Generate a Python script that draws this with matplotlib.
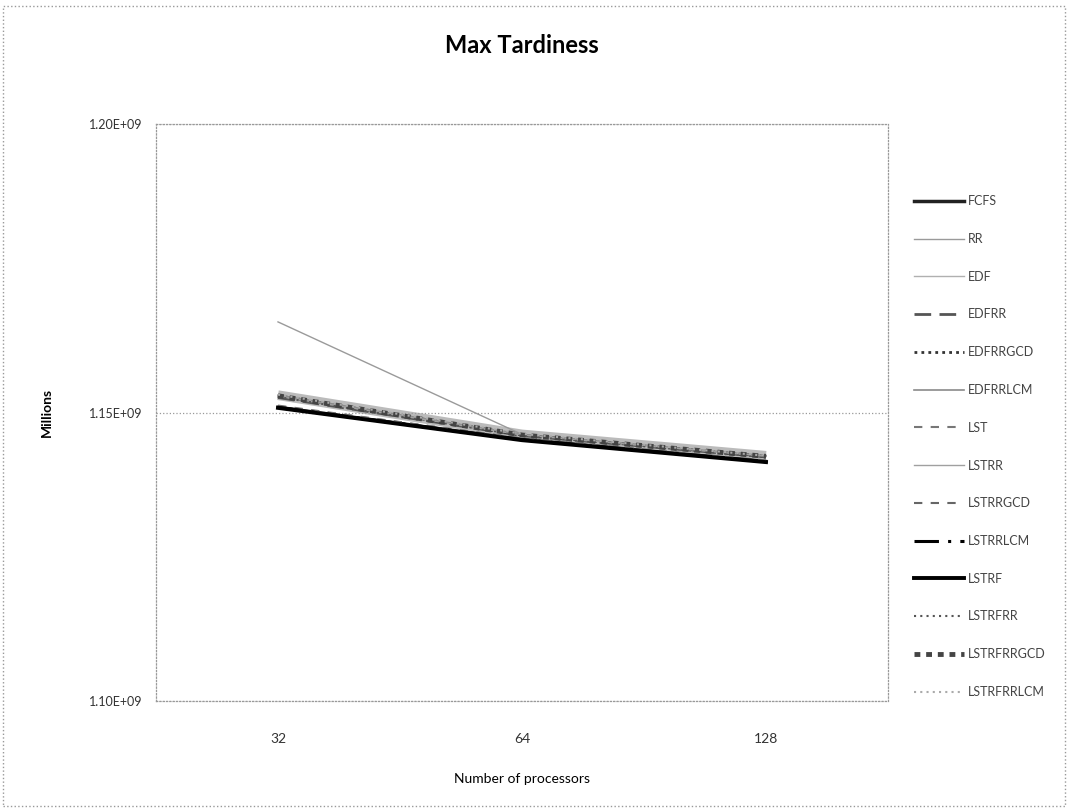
import matplotlib.pyplot as plt
from matplotlib.patches import Rectangle

plt.rcParams['font.family'] = ['Lato', 'DejaVu Sans']

processors = ['32', '64', '128']

# max tardiness per scheduler
fcfs = [1.1509e9, 1.1453e9, 1.1415e9]
rr = [1.1657e9, 1.1462e9, 1.1424e9]
edf = [1.1527e9, 1.1461e9, 1.1424e9]
edfrr = [1.1526e9, 1.1460e9, 1.1423e9]
edfrrgcd = [1.1529e9, 1.1461e9, 1.1424e9]
edfrrlcm = [1.1530e9, 1.1462e9, 1.1425e9]
lst = [1.1512e9, 1.1455e9, 1.1417e9]
lstrr = [1.1528e9, 1.1461e9, 1.1424e9]
lstrrgcd = [1.1511e9, 1.1455e9, 1.1416e9]
lstrrlcm = [1.1509e9, 1.1453e9, 1.1415e9]
lstrf = [1.1508e9, 1.1452e9, 1.1414e9]
lstrfrr = [1.1527e9, 1.1460e9, 1.1423e9]
lstrfrrgcd = [1.1529e9, 1.1461e9, 1.1424e9]
lstrfrrlcm = [1.1531e9, 1.1463e9, 1.1425e9]

series = [
    ('FCFS', fcfs, '#222222', '-', 2.5),
    ('RR', rr, '#9a9a9a', '-', 1.0),
    ('EDF', edf, '#b0b0b0', '-', 1.0),
    ('EDFRR', edfrr, '#555555', (0, (6, 3)), 2.0),
    ('EDFRRGCD', edfrrgcd, '#333333', (0, (1, 1.5)), 2.0),
    ('EDFRRLCM', edfrrlcm, '#8a8a8a', '-', 1.2),
    ('LST', lst, '#777777', (0, (4, 4)), 1.5),
    ('LSTRR', lstrr, '#a0a0a0', '-', 1.0),
    ('LSTRRGCD', lstrrgcd, '#666666', (0, (4, 4)), 1.5),
    ('LSTRRLCM', lstrrlcm, '#000000', (0, (8, 3, 1, 3)), 2.2),
    ('LSTRF', lstrf, '#000000', '-', 2.8),
    ('LSTRFRR', lstrfrr, '#555555', (0, (1, 2)), 1.5),
    ('LSTRFRRGCD', lstrfrrgcd, '#444444', (0, (1.2, 1.2)), 3.5),
    ('LSTRFRRLCM', lstrfrrlcm, '#aaaaaa', (0, (1, 2)), 1.5),
]

fig = plt.figure(figsize=(10.68, 8.09), dpi=100)
ax = fig.add_axes([156 / 1068, 1 - 701 / 809, 732 / 1068, 577 / 809])

x = range(len(processors))
# wide light band behind the upper cluster of lines
ax.plot(x, edfrrlcm, color='#bbbbbb', linewidth=7, solid_capstyle='butt', zorder=1)
for name, vals, color, ls, lw in series:
    ax.plot(x, vals, color=color, linestyle=ls, linewidth=lw, label=name, zorder=2)

ax.set_xlim(-0.5, 2.5)
ax.set_ylim(1.10e9, 1.20e9)
ax.set_yticks([1.10e9, 1.15e9, 1.20e9])
ax.set_yticklabels(['1.10E+09', '1.15E+09', '1.20E+09'], fontsize=9, color='#333333')
ax.set_xticks(list(x))
ax.set_xticklabels(processors, fontsize=10, color='#333333')
ax.tick_params(axis='y', length=0, pad=10)
ax.tick_params(axis='x', length=0, pad=23)
ax.grid(axis='y', color='#999999', linestyle=':', linewidth=0.9)
for sp in ax.spines.values():
    sp.set_color('#999999')
    sp.set_linestyle(':')
    sp.set_linewidth(0.9)

ax.set_title('Max Tardiness', fontsize=17, fontweight='bold', pad=51)
ax.set_xlabel('Number of processors', fontsize=10, labelpad=20)
ax.set_ylabel('Millions', fontsize=10, fontweight='bold', labelpad=26)

ax.legend(loc='upper left', bbox_to_anchor=(903 / 1068, 1 - 184 / 809),
          bbox_transform=fig.transFigure, frameon=False, fontsize=9,
          handlelength=4.0, handletextpad=0.3, labelspacing=2.06,
          labelcolor='#444444')

fig.patches.append(Rectangle((3 / 1068, 3 / 809), 1062 / 1068, 800 / 809,
                             transform=fig.transFigure, fill=False,
                             edgecolor='#999999', linestyle=':', linewidth=1))

fig.savefig('out.png', dpi=100)
